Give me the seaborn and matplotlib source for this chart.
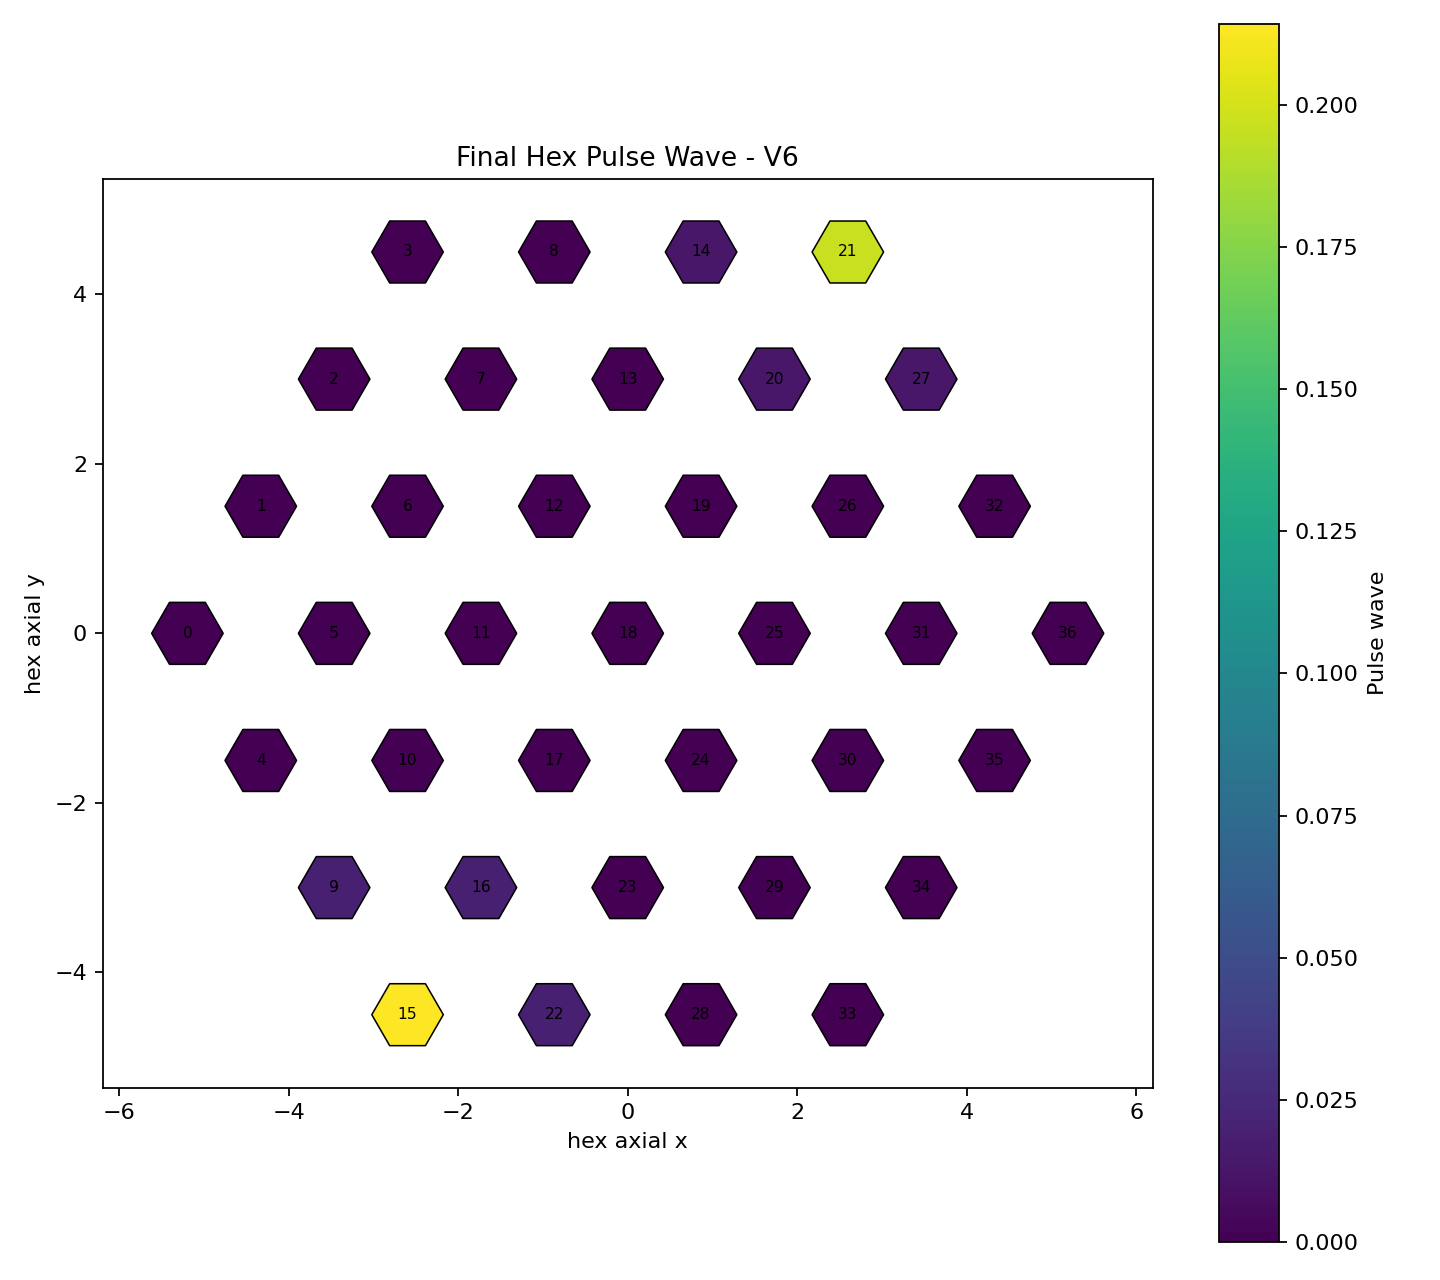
import numpy as np
import pandas as pd
import matplotlib
matplotlib.use("Agg")
import matplotlib.pyplot as plt
import seaborn as sns

# ---- data ----
radius = 3
cell_q = []
cell_r = []
for q in range(-radius, radius + 1):
    for r in range(max(-radius, -q - radius), min(radius, -q + radius) + 1):
        cell_q.append(q)
        cell_r.append(r)

cell_ids = list(range(37))
pulse_values = [
    0.0, 0.0, 0.0, 0.0,            # 0-3
    0.0, 0.0, 0.0, 0.0, 0.0,       # 4-8
    0.019, 0.0, 0.0, 0.0, 0.0, 0.013,   # 9-14
    0.2143, 0.019, 0.0, 0.0, 0.0, 0.013, 0.196,  # 15-21
    0.019, 0.0, 0.0, 0.0, 0.0, 0.013,   # 22-27
    0.0, 0.0, 0.0, 0.0, 0.0,       # 28-32
    0.0, 0.0, 0.0, 0.0,            # 33-36
]

title = "Final Hex Pulse Wave - V6"
x_label = "hex axial x"
y_label = "hex axial y"
cbar_label = "Pulse wave"
x_ticks = [-6, -4, -2, 0, 2, 4, 6]
y_ticks = [-4, -2, 0, 2, 4]
cbar_ticks = [0.0, 0.025, 0.05, 0.075, 0.1, 0.125, 0.15, 0.175, 0.2]

hex_size = 0.422  # hexagon circumradius in data units

qa = np.array(cell_q, dtype=float)
ra = np.array(cell_r, dtype=float)
df = pd.DataFrame({
    "x": np.sqrt(3) * (qa + ra / 2.0),
    "y": 1.5 * ra,
    "val": pulse_values,
    "id": cell_ids,
})

vmax = max(pulse_values)

DPI = 160
fig = plt.figure(figsize=(9, 8), dpi=DPI)
ax = fig.add_axes([0.0713, 0.1502, 0.8005 - 0.0713, 0.8602 - 0.1502])
cax = fig.add_axes([0.8465, 0.0299, 0.8884 - 0.8465, 0.98125 - 0.0299])

xl = 3 * np.sqrt(3) + 1
ax.set_xlim(-xl, xl)
ax.set_ylim(-5.362, 5.362)

# marker size from the axis scale
fig.canvas.draw()
p0 = ax.transData.transform((0, 0))
p1 = ax.transData.transform((hex_size, 0))
r_px = p1[0] - p0[0]
ms_pt = 2 * r_px * 72.0 / fig.dpi

cmap = sns.color_palette("viridis", as_cmap=True)
norm = matplotlib.colors.Normalize(vmin=0.0, vmax=vmax)

sns.scatterplot(data=df, x="x", y="y", hue="val", palette=cmap,
                hue_norm=norm, marker="H", s=ms_pt ** 2,
                edgecolor="black", linewidth=0.7, legend=False, ax=ax,
                zorder=2)

for _, row in df.iterrows():
    ax.text(row["x"], row["y"], str(int(row["id"])), ha="center",
            va="center", fontsize=7, color="black", zorder=3)

ax.set_xlim(-xl, xl)
ax.set_ylim(-5.362, 5.362)
ax.set_xticks(x_ticks)
ax.set_yticks(y_ticks)
ax.set_xlabel(x_label)
ax.set_ylabel(y_label)
ax.set_title(title)

sm = matplotlib.cm.ScalarMappable(norm=norm, cmap=cmap)
sm.set_array([])
cb = fig.colorbar(sm, cax=cax)
cb.set_ticks(cbar_ticks)
cb.ax.yaxis.set_major_formatter(matplotlib.ticker.FormatStrFormatter("%.3f"))
cb.set_label(cbar_label)

fig.savefig("out.png", dpi=DPI)
